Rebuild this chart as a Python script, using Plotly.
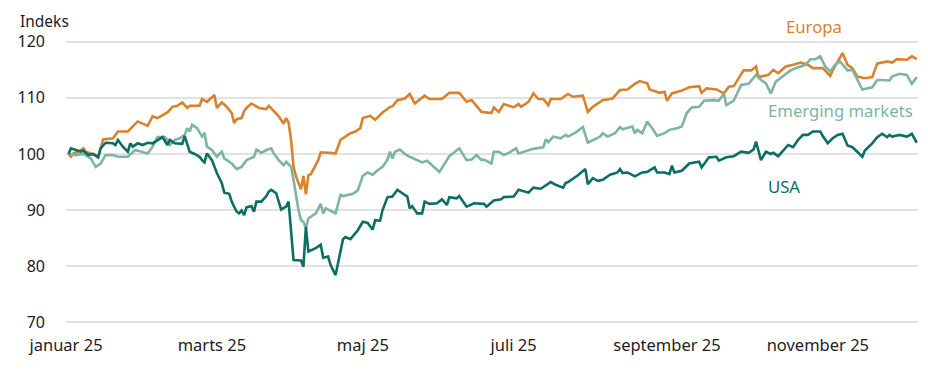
import plotly.graph_objects as go

# ---------------- data ----------------
eu_dates = ["2025-01-02","2025-01-03","2025-01-04","2025-01-06","2025-01-08","2025-01-09","2025-01-11","2025-01-14","2025-01-16","2025-01-20",
            "2025-01-22","2025-01-26","2025-01-30","2025-02-03","2025-02-05","2025-02-07","2025-02-11","2025-02-13","2025-02-15","2025-02-17",
            "2025-02-19","2025-02-20","2025-02-24","2025-02-25","2025-02-27","2025-03-02","2025-03-03","2025-03-05","2025-03-07","2025-03-09",
            "2025-03-10","2025-03-11","2025-03-13","2025-03-14","2025-03-15","2025-03-17","2025-03-20","2025-03-23","2025-03-24","2025-03-26",
            "2025-03-28","2025-03-30","2025-03-31","2025-04-01","2025-04-02","2025-04-03","2025-04-04","2025-04-06","2025-04-07","2025-04-08",
            "2025-04-09","2025-04-10","2025-04-13","2025-04-14","2025-04-20","2025-04-22","2025-04-26","2025-04-28","2025-04-30","2025-05-01",
            "2025-05-04","2025-05-06","2025-05-09","2025-05-12","2025-05-13","2025-05-15","2025-05-18","2025-05-20","2025-05-22","2025-05-26",
            "2025-05-28","2025-06-02","2025-06-05","2025-06-09","2025-06-12","2025-06-14","2025-06-18","2025-06-22","2025-06-23","2025-06-25",
            "2025-06-27","2025-07-01","2025-07-03","2025-07-04","2025-07-07","2025-07-09","2025-07-11","2025-07-13","2025-07-15","2025-07-16",
            "2025-07-20","2025-07-23","2025-07-25","2025-07-29","2025-07-31","2025-08-02","2025-08-05","2025-08-06","2025-08-10","2025-08-13",
            "2025-08-16","2025-08-19","2025-08-21","2025-08-24","2025-08-25","2025-08-29","2025-08-31","2025-09-01","2025-09-03","2025-09-07",
            "2025-09-10","2025-09-14","2025-09-15","2025-09-17","2025-09-21","2025-09-24","2025-09-26","2025-09-28","2025-10-02","2025-10-05",
            "2025-10-07","2025-10-08","2025-10-12","2025-10-14","2025-10-16","2025-10-19","2025-10-22","2025-10-25","2025-10-28","2025-10-30",
            "2025-11-03","2025-11-06","2025-11-07","2025-11-11","2025-11-13","2025-11-15","2025-11-17","2025-11-20","2025-11-23","2025-11-25",
            "2025-11-29","2025-12-01","2025-12-03","2025-12-07","2025-12-09","2025-12-11"]
eu_values = [100.0, 99.5, 100.1, 100.4, 101.0, 100.4, 100.1, 99.5, 102.6, 102.8,
             104.0, 104.0, 105.8, 105.0, 106.7, 106.4, 107.4, 108.4, 108.6, 109.2,
             108.2, 108.6, 108.6, 109.8, 109.3, 110.5, 108.2, 109.2, 108.4, 107.3,
             105.5, 106.2, 106.4, 107.6, 108.2, 109.0, 108.2, 108.0, 108.6, 107.6,
             106.7, 105.4, 106.4, 105.6, 102.5, 97.7, 96.0, 93.7, 96.1, 92.8,
             96.2, 96.4, 98.9, 100.3, 100.1, 102.5, 103.7, 104.0, 104.6, 106.4,
             106.8, 106.1, 107.4, 108.4, 108.5, 109.6, 109.9, 110.7, 109.0, 110.4,
             109.8, 109.8, 110.9, 110.9, 109.3, 109.6, 107.5, 107.3, 108.3, 107.5,
             108.9, 108.3, 108.9, 108.4, 109.3, 110.8, 109.8, 109.8, 108.7, 109.8,
             109.8, 110.7, 110.2, 110.4, 107.5, 108.4, 109.2, 109.6, 109.9, 111.4,
             111.5, 112.5, 113.0, 112.6, 111.5, 110.9, 111.1, 109.5, 110.8, 111.3,
             111.9, 112.1, 110.9, 111.7, 111.5, 110.8, 112.0, 112.1, 114.9, 114.9,
             115.6, 113.7, 114.1, 115.0, 114.4, 115.6, 115.9, 116.3, 115.9, 115.3,
             115.3, 113.9, 114.9, 118.0, 115.9, 115.3, 113.8, 113.5, 113.7, 116.1,
             116.5, 116.3, 116.9, 116.8, 117.4, 116.9]

em_dates = ["2025-01-02","2025-01-05","2025-01-08","2025-01-11","2025-01-13","2025-01-15","2025-01-17","2025-01-20","2025-01-22","2025-01-26",
            "2025-01-29","2025-02-01","2025-02-03","2025-02-05","2025-02-07","2025-02-10","2025-02-11","2025-02-12","2025-02-14","2025-02-16",
            "2025-02-18","2025-02-19","2025-02-20","2025-02-21","2025-02-23","2025-02-25","2025-02-26","2025-02-27","2025-03-01","2025-03-03",
            "2025-03-05","2025-03-06","2025-03-09","2025-03-11","2025-03-13","2025-03-15","2025-03-18","2025-03-19","2025-03-21","2025-03-23",
            "2025-03-25","2025-03-26","2025-03-28","2025-03-30","2025-03-31","2025-04-02","2025-04-03","2025-04-05","2025-04-06","2025-04-07",
            "2025-04-08","2025-04-09","2025-04-12","2025-04-14","2025-04-15","2025-04-16","2025-04-20","2025-04-22","2025-04-23","2025-04-27",
            "2025-04-29","2025-04-30","2025-05-01","2025-05-03","2025-05-05","2025-05-07","2025-05-09","2025-05-11","2025-05-12","2025-05-13",
            "2025-05-14","2025-05-16","2025-05-18","2025-05-20","2025-05-25","2025-05-27","2025-05-29","2025-06-01","2025-06-04","2025-06-05",
            "2025-06-09","2025-06-12","2025-06-14","2025-06-16","2025-06-18","2025-06-19","2025-06-22","2025-06-23","2025-06-25","2025-06-27",
            "2025-06-29","2025-07-02","2025-07-03","2025-07-05","2025-07-08","2025-07-10","2025-07-13","2025-07-14","2025-07-15","2025-07-17",
            "2025-07-20","2025-07-22","2025-07-23","2025-07-26","2025-07-29","2025-07-31","2025-08-02","2025-08-05","2025-08-06","2025-08-08",
            "2025-08-11","2025-08-13","2025-08-14","2025-08-18","2025-08-19","2025-08-20","2025-08-22","2025-08-24","2025-08-26","2025-08-28",
            "2025-08-31","2025-09-02","2025-09-05","2025-09-07","2025-09-09","2025-09-11","2025-09-14","2025-09-16","2025-09-20","2025-09-22",
            "2025-09-24","2025-09-25","2025-09-28","2025-10-01","2025-10-04","2025-10-07","2025-10-09","2025-10-11","2025-10-13","2025-10-15",
            "2025-10-18","2025-10-21","2025-10-23","2025-10-25","2025-10-27","2025-10-29","2025-10-31","2025-11-02","2025-11-04","2025-11-06",
            "2025-11-08","2025-11-10","2025-11-13","2025-11-15","2025-11-17","2025-11-19","2025-11-23","2025-11-25","2025-11-27","2025-11-30",
            "2025-12-01","2025-12-04","2025-12-07","2025-12-09","2025-12-11"]
em_values = [100.0, 99.8, 100.0, 99.2, 97.7, 98.3, 99.8, 99.8, 99.5, 99.5,
             100.7, 100.4, 100.1, 101.3, 103.0, 103.0, 102.5, 101.6, 102.5, 102.8,
             103.4, 104.6, 104.0, 105.2, 104.6, 103.1, 103.8, 101.3, 100.7, 99.5,
             100.4, 99.2, 98.3, 97.3, 97.7, 98.9, 99.5, 100.8, 100.2, 100.7,
             101.0, 100.1, 98.9, 98.0, 98.6, 97.7, 95.4, 90.0, 88.2, 87.9,
             86.8, 88.5, 89.4, 91.1, 89.4, 90.3, 89.4, 92.7, 92.5, 92.9,
             93.5, 94.8, 96.1, 96.7, 96.3, 97.1, 97.7, 99.0, 100.4, 99.2,
             100.4, 100.8, 100.0, 99.5, 98.5, 98.8, 98.0, 96.8, 98.9, 99.6,
             101.0, 98.9, 99.0, 99.8, 98.9, 99.0, 98.3, 100.4, 100.4, 99.8,
             100.2, 101.0, 100.1, 100.4, 100.8, 101.0, 101.2, 102.6, 102.1, 103.1,
             102.8, 103.4, 103.1, 103.8, 104.8, 102.0, 102.4, 103.1, 103.7, 103.1,
             103.7, 104.8, 104.4, 104.9, 103.7, 104.3, 103.7, 105.8, 104.6, 103.2,
             103.7, 104.3, 104.6, 104.9, 107.3, 108.3, 108.4, 109.5, 109.6, 109.5,
             110.8, 108.7, 109.5, 112.3, 112.5, 114.1, 113.2, 112.6, 110.8, 112.9,
             113.9, 114.9, 115.3, 115.6, 115.9, 116.9, 116.9, 117.4, 115.6, 114.7,
             115.9, 116.5, 114.9, 115.0, 113.2, 111.5, 111.9, 113.2, 113.2, 113.1,
             113.8, 114.3, 114.1, 112.5, 113.7]

us_dates = ["2025-01-02","2025-01-03","2025-01-05","2025-01-07","2025-01-08","2025-01-10","2025-01-12","2025-01-14","2025-01-15","2025-01-17",
            "2025-01-20","2025-01-21","2025-01-22","2025-01-24","2025-01-26","2025-01-27","2025-01-28","2025-01-30","2025-02-01","2025-02-03",
            "2025-02-05","2025-02-07","2025-02-09","2025-02-11","2025-02-12","2025-02-14","2025-02-17","2025-02-18","2025-02-20","2025-02-22",
            "2025-02-24","2025-02-25","2025-02-26","2025-02-27","2025-03-01","2025-03-03","2025-03-05","2025-03-06","2025-03-08","2025-03-09",
            "2025-03-11","2025-03-12","2025-03-13","2025-03-14","2025-03-15","2025-03-17","2025-03-18","2025-03-19","2025-03-21","2025-03-23",
            "2025-03-24","2025-03-25","2025-03-27","2025-03-28","2025-03-29","2025-03-31","2025-04-01","2025-04-03","2025-04-06","2025-04-07",
            "2025-04-08","2025-04-09","2025-04-12","2025-04-14","2025-04-15","2025-04-17","2025-04-18","2025-04-20","2025-04-22","2025-04-23",
            "2025-04-24","2025-04-26","2025-04-29","2025-05-01","2025-05-03","2025-05-05","2025-05-06","2025-05-08","2025-05-09","2025-05-11",
            "2025-05-13","2025-05-15","2025-05-17","2025-05-19","2025-05-20","2025-05-21","2025-05-23","2025-05-25","2025-05-26","2025-05-28",
            "2025-05-31","2025-06-02","2025-06-04","2025-06-05","2025-06-08","2025-06-09","2025-06-12","2025-06-15","2025-06-19","2025-06-20",
            "2025-06-23","2025-06-26","2025-06-27","2025-07-01","2025-07-03","2025-07-07","2025-07-09","2025-07-12","2025-07-16","2025-07-18",
            "2025-07-21","2025-07-22","2025-07-23","2025-07-27","2025-07-30","2025-07-31","2025-08-02","2025-08-04","2025-08-06","2025-08-09",
            "2025-08-12","2025-08-13","2025-08-14","2025-08-16","2025-08-19","2025-08-22","2025-08-24","2025-08-27","2025-08-28","2025-08-31",
            "2025-09-02","2025-09-03","2025-09-04","2025-09-07","2025-09-10","2025-09-14","2025-09-15","2025-09-18","2025-09-21","2025-09-22",
            "2025-09-25","2025-09-28","2025-10-01","2025-10-04","2025-10-06","2025-10-07","2025-10-09","2025-10-11","2025-10-13","2025-10-14",
            "2025-10-16","2025-10-18","2025-10-20","2025-10-22","2025-10-24","2025-10-26","2025-10-28","2025-10-30","2025-11-02","2025-11-03",
            "2025-11-05","2025-11-07","2025-11-09","2025-11-11","2025-11-13","2025-11-15","2025-11-17","2025-11-19","2025-11-20","2025-11-23",
            "2025-11-25","2025-11-27","2025-11-29","2025-11-30","2025-12-01","2025-12-04","2025-12-07","2025-12-09","2025-12-11"]
us_values = [100.0, 101.0, 100.7, 100.4, 100.6, 99.8, 100.0, 99.4, 101.0, 102.0,
             101.9, 101.6, 102.5, 101.3, 100.4, 101.9, 101.3, 101.9, 101.6, 102.0,
             101.9, 102.5, 103.0, 101.6, 102.5, 101.9, 101.8, 103.2, 100.4, 100.0,
             99.5, 98.9, 98.5, 100.1, 98.9, 96.6, 94.8, 93.1, 92.9, 91.5,
             89.7, 89.4, 89.9, 89.1, 90.5, 90.7, 89.7, 91.5, 91.5, 92.5,
             93.3, 93.6, 93.0, 91.5, 90.1, 90.6, 91.5, 81.1, 81.0, 79.9,
             87.0, 82.6, 83.2, 83.8, 81.5, 81.7, 80.2, 78.4, 82.9, 84.8,
             85.2, 84.8, 86.4, 87.9, 87.7, 86.5, 88.2, 88.1, 90.0, 92.3,
             92.4, 93.6, 93.0, 92.4, 90.3, 90.7, 89.4, 89.4, 91.5, 91.1,
             91.2, 91.9, 90.9, 92.3, 92.1, 92.5, 90.6, 91.2, 91.1, 90.6,
             91.7, 91.9, 92.3, 92.4, 93.6, 93.1, 94.0, 93.8, 95.0, 94.5,
             94.0, 94.8, 95.0, 96.2, 97.3, 94.6, 95.7, 95.2, 95.4, 96.3,
             96.7, 97.3, 96.6, 96.7, 96.0, 96.7, 96.8, 97.6, 96.7, 96.7,
             96.4, 97.9, 96.7, 97.0, 98.3, 98.6, 97.6, 99.4, 99.5, 98.8,
             99.4, 99.6, 100.4, 100.2, 100.8, 102.2, 98.9, 100.4, 100.0, 100.2,
             99.6, 100.6, 101.6, 101.2, 102.5, 103.4, 103.4, 104.0, 104.0, 103.2,
             101.9, 102.8, 103.4, 103.6, 101.5, 101.2, 100.4, 99.5, 100.6, 101.9,
             103.0, 103.6, 103.0, 103.4, 103.1, 103.4, 103.1, 103.6, 102.0]

series_names = ["Europa", "Emerging markets", "USA"]
series_colors = ["#D9822B", "#7DB5A0", "#0D6E62"]

month_ticks = ["2025-01-01", "2025-03-01", "2025-05-01", "2025-07-01", "2025-09-01", "2025-11-01"]
month_labels = ["januar 25", "marts 25", "maj 25", "juli 25", "september 25", "november 25"]
y_ticks = [70, 80, 90, 100, 110, 120]

# ---------------- figure ----------------
FONT = "Noto Sans"
TXT = "#222222"
fig = go.Figure()
for name, dts, vals, col in zip(series_names, [eu_dates, em_dates, us_dates],
                                [eu_values, em_values, us_values], series_colors):
    fig.add_trace(go.Scatter(x=dts, y=vals, mode="lines", name=name,
                             line=dict(color=col, width=2.6), showlegend=False))

# series labels (paper coordinates)
label_pos = [(0.878, 1.043), (0.909, 0.749), (0.843, 0.486)]
for name, col, (px, py) in zip(series_names, series_colors, label_pos):
    fig.add_annotation(text=name, xref="paper", yref="paper", x=px, y=py,
                       showarrow=False, xanchor="center", yanchor="middle",
                       font=dict(family=FONT, size=16.7, color=col))

fig.add_annotation(text="Indeks", xref="paper", yref="paper", x=-0.056, y=1.108,
                   showarrow=False, xanchor="left", yanchor="top",
                   font=dict(family=FONT, size=15.5, color=TXT))

# page body has an 8px default margin, so the figure is sized to fit the window
fig.update_layout(
    width=920, height=362,
    margin=dict(l=52, r=10, t=31, b=45),
    plot_bgcolor="white", paper_bgcolor="white",
    font=dict(family=FONT, size=16.5, color=TXT),
    xaxis=dict(type="date", range=["2025-01-01", "2025-12-11 12:00"],
               tickvals=month_ticks, ticktext=month_labels,
               showgrid=False, zeroline=False, showline=False, ticks="",
               ticklabelstandoff=8,
               tickfont=dict(family=FONT, size=16.5, color=TXT)),
    yaxis=dict(range=[69.5, 120.5], tickvals=y_ticks,
               showgrid=True, gridcolor="#E2E2E2", gridwidth=1.5,
               zeroline=False, showline=False, ticks="",
               ticklabelstandoff=20,
               tickfont=dict(family=FONT, size=16, color=TXT)),
)

fig.write_html("out.html", config={"displayModeBar": False})
